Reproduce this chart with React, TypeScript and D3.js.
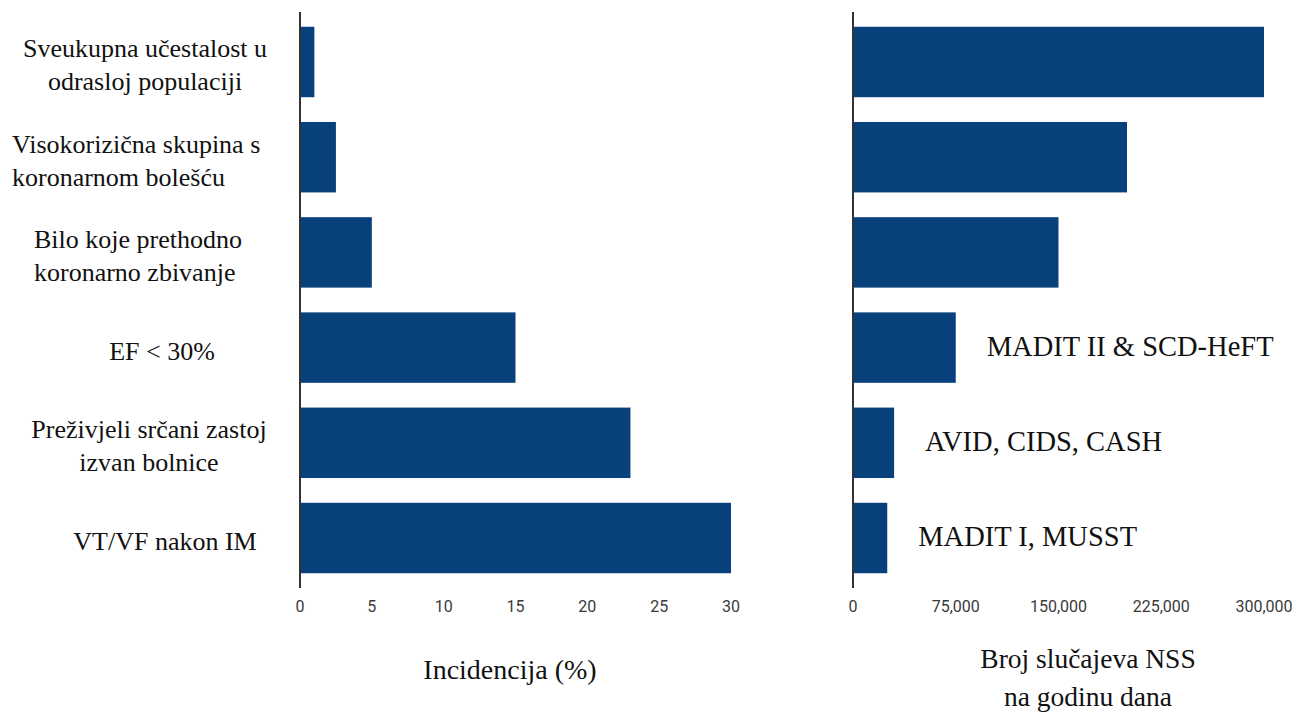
import * as d3 from 'd3'

const categories = [
  ['Sveukupna učestalost u', 'odrasloj populaciji'],
  ['Visokorizična skupina s', 'koronarnom bolešću'],
  ['Bilo koje prethodno', 'koronarno zbivanje'],
  ['EF < 30%'],
  ['Preživjeli srčani zastoj', 'izvan bolnice'],
  ['VT/VF nakon IM'],
]
const incidence = [1, 2.5, 5, 15, 23, 30]
const events = [300000, 200000, 150000, 75000, 30000, 25000]
const trials = ['', '', '', 'MADIT II & SCD-HeFT', 'AVID, CIDS, CASH', 'MADIT I, MUSST']
const incidenceTicks = [0, 5, 10, 15, 20, 25, 30]
const eventTicks = [0, 75000, 150000, 225000, 300000]

// label placement as in the source figure (hand-placed text)
const labelPlace: { anchor: 'start' | 'middle'; x: number }[] = [
  { anchor: 'middle', x: 145 },
  { anchor: 'start', x: 12 },
  { anchor: 'start', x: 34 },
  { anchor: 'middle', x: 162 },
  { anchor: 'middle', x: 149 },
  { anchor: 'middle', x: 165 },
]

const W = 1309
const H = 716
const BAR = '#08407c'
const SERIF = '"Liberation Serif", "Times New Roman", serif'
const SANS = 'Roboto, "Open Sans", sans-serif'

export default function App() {
  const keys = categories.map((_, i) => String(i))
  const y = d3.scaleBand<string>().domain(keys).range([12, 588]).paddingInner(0.26).paddingOuter(0.155)
  const xL = d3.scaleLinear().domain([0, 30]).range([300, 731])
  const xR = d3.scaleLinear().domain([0, 300000]).range([853, 1264])
  const fmt = d3.format(',')
  const bw = y.bandwidth()

  return (
    <svg width={W} height={H} style={{ position: 'absolute', left: 0, top: 0, background: '#fff' }}>
      {/* axes */}
      <line x1={xL(0)} x2={xL(0)} y1={12} y2={588} stroke="#333" strokeWidth={2} />
      <line x1={xR(0)} x2={xR(0)} y1={12} y2={588} stroke="#333" strokeWidth={2} />

      {/* left bars */}
      {incidence.map((v, i) => (
        <rect key={'l' + i} x={xL(0) + 1} y={y(keys[i])} width={xL(v) - xL(0) - 1} height={bw} fill={BAR} />
      ))}
      {/* right bars */}
      {events.map((v, i) => (
        <rect key={'r' + i} x={xR(0) + 1} y={y(keys[i])} width={xR(v) - xR(0) - 1} height={bw} fill={BAR} />
      ))}

      {/* category labels */}
      {categories.map((lines, i) => {
        const cy = (y(keys[i]) ?? 0) + bw / 2 + 3
        const p = labelPlace[i]
        return (
          <text key={'c' + i} textAnchor={p.anchor} style={{ fontFamily: SERIF, fontSize: 26, fill: '#111' }}>
            {lines.map((ln, j) => (
              <tspan key={j} x={p.x} y={cy + 9 + (j - (lines.length - 1) / 2) * 33}>{ln}</tspan>
            ))}
          </text>
        )
      })}

      {/* trial annotations */}
      {trials.map((t, i) => t && (
        <text key={'t' + i} x={xR(events[i]) + 31} y={(y(keys[i]) ?? 0) + bw / 2 + 8}
          style={{ fontFamily: SERIF, fontSize: 28.5, fill: '#111' }}>
          {t}
        </text>
      ))}

      {/* tick labels */}
      {incidenceTicks.map(t => (
        <text key={'xl' + t} x={xL(t)} y={612} textAnchor="middle"
          style={{ fontFamily: SANS, fontSize: 16, fill: '#3a3a3a' }}>{t}</text>
      ))}
      {eventTicks.map(t => (
        <text key={'xr' + t} x={xR(t)} y={612} textAnchor="middle"
          style={{ fontFamily: SANS, fontSize: 16, fill: '#3a3a3a' }}>{fmt(t)}</text>
      ))}

      {/* axis titles */}
      <text x={510} y={679} textAnchor="middle" style={{ fontFamily: SERIF, fontSize: 28, fill: '#111' }}>
        Incidencija (%)
      </text>
      <text textAnchor="middle" style={{ fontFamily: SERIF, fontSize: 27.5, fill: '#111' }}>
        <tspan x={1088} y={668}>Broj slučajeva NSS</tspan>
        <tspan x={1088} y={706}>na godinu dana</tspan>
      </text>
    </svg>
  )
}
